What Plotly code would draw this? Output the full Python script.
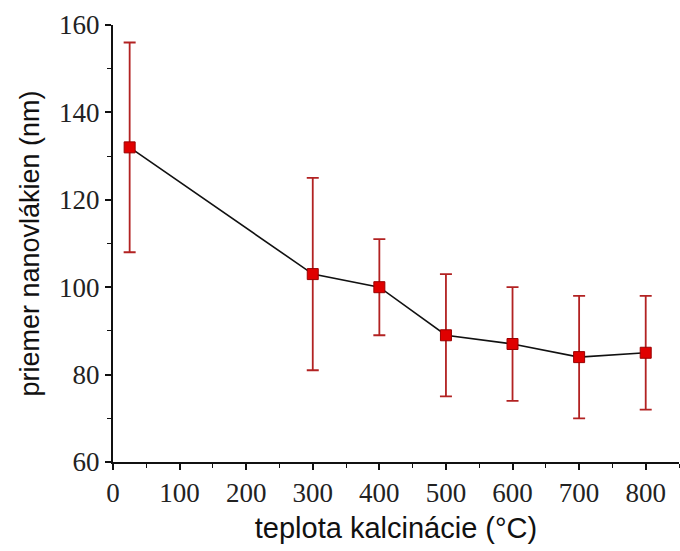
import plotly.graph_objects as go

temps = [25, 300, 400, 500, 600, 700, 800]
diam = [132, 103, 100, 89, 87, 84, 85]
err = [24, 22, 11, 14, 13, 14, 13]

x_ticks = [0, 100, 200, 300, 400, 500, 600, 700, 800]
y_ticks = [60, 80, 100, 120, 140, 160]

fig = go.Figure()
fig.add_trace(go.Scatter(
    x=temps, y=diam, mode="lines+markers",
    line=dict(color="#111111", width=1.6),
    marker=dict(symbol="square", size=11, color="#e00000", line=dict(color="#9a0000", width=1)),
    error_y=dict(type="data", array=err, visible=True, color="#b22222", thickness=1.8, width=6),
    showlegend=False,
))

axis_common = dict(
    showline=True, linecolor="#111111", linewidth=2,
    ticks="outside", ticklen=6, tickwidth=1.5, tickcolor="#111111",
    showgrid=False, zeroline=False, mirror=False,
    tickfont=dict(family="Liberation Serif", size=27, color="#222222"),
)

fig.update_xaxes(
    range=[0, 850], tickvals=x_ticks, ticktext=[str(v) for v in x_ticks],
    minor=dict(ticks="outside", ticklen=4, tickwidth=1.2, tickcolor="#111111", dtick=50, tick0=0),
    title_text="teplota kalcinácie (°C)", title_standoff=10,
    title_font=dict(family="Liberation Sans", size=29, color="#111111"),
    **axis_common,
)
fig.update_yaxes(
    range=[60, 160], tickvals=y_ticks, ticktext=[str(v) for v in y_ticks],
    minor=dict(ticks="outside", ticklen=4, tickwidth=1.2, tickcolor="#111111", dtick=10, tick0=60),
    title_text="priemer nanovlákien (nm)", title_standoff=12,
    title_font=dict(family="Liberation Sans", size=27, color="#111111"),
    **axis_common,
)

fig.update_layout(
    width=680, height=551,
    margin=dict(l=113, r=1, t=25, b=89, autoexpand=False),
    plot_bgcolor="white", paper_bgcolor="white",
)

fig.write_html("out.html", config={"displayModeBar": False},
               post_script="document.body.style.margin='0';")
